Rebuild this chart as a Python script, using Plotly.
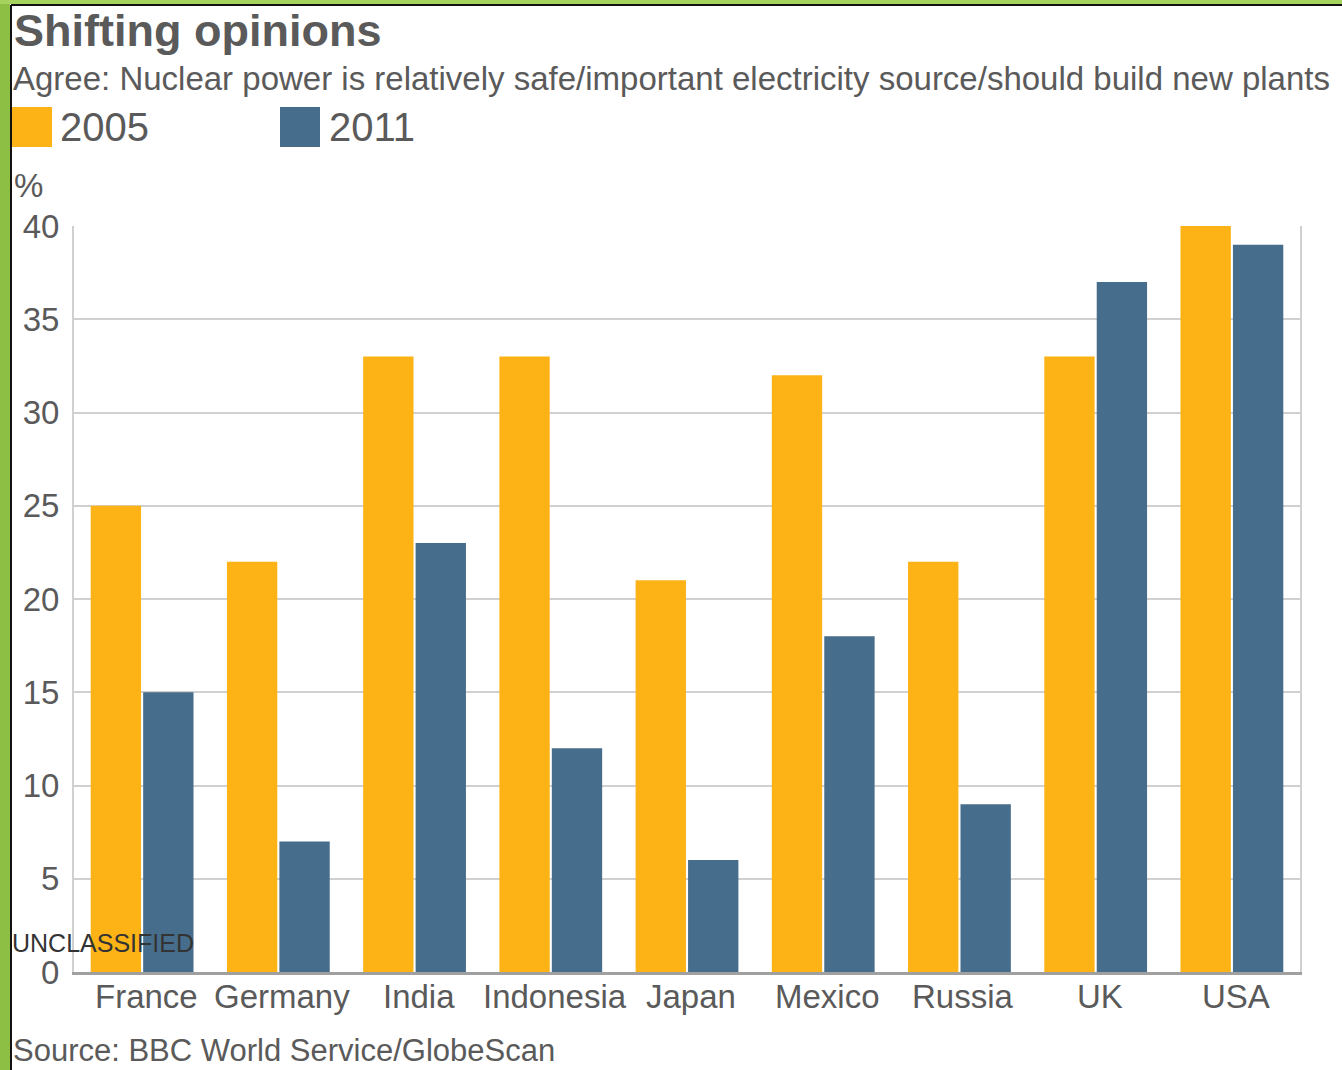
import plotly.graph_objects as go

countries = ["France", "Germany", "India", "Indonesia", "Japan", "Mexico", "Russia", "UK", "USA"]
series_names = ["2005", "2011"]
values_2005 = [25, 22, 33, 33, 21, 32, 22, 33, 40]
values_2011 = [15, 7, 23, 12, 6, 18, 9, 37, 39]
y_ticks = [0, 5, 10, 15, 20, 25, 30, 35, 40]

title = "Shifting opinions"
subtitle = "Agree: Nuclear power is relatively safe/important electricity source/should build new plants"
source = "Source: BBC World Service/GlobeScan"

ORANGE = "#FDB316"
BLUE = "#476D8C"
TXT = "#5a5a5a"
FONT = "Liberation Sans, Arial, sans-serif"

W, H = 1342, 1070
L, R, T, B = 74, 42, 226, 98
PW, PH = W - L - R, H - T - B


def px(x):
    return (x - L) / PW


def py(y):
    return (H - B - y) / PH


fig = go.Figure()
fig.add_trace(go.Bar(x=countries, y=values_2005, name=series_names[0], marker=dict(color=ORANGE, line=dict(width=0))))
fig.add_trace(go.Bar(x=countries, y=values_2011, name=series_names[1], marker=dict(color=BLUE, line=dict(width=0))))

shapes = [
    # green frame
    dict(type="rect", xref="paper", yref="paper", x0=px(0), x1=px(10), y0=py(H), y1=py(0),
         fillcolor="#8dbf45", line=dict(width=0), layer="above"),
    dict(type="rect", xref="paper", yref="paper", x0=px(0), x1=px(W), y0=py(4), y1=py(0),
         fillcolor="#a6d25e", line=dict(width=0), layer="above"),
    dict(type="line", xref="paper", yref="paper", x0=px(11), x1=px(11), y0=py(H), y1=py(5),
         line=dict(color="#111", width=2), layer="above"),
    dict(type="line", xref="paper", yref="paper", x0=px(11), x1=px(W), y0=py(5), y1=py(5),
         line=dict(color="#111", width=2), layer="above"),
    # legend swatches
    dict(type="rect", xref="paper", yref="paper", x0=px(12), x1=px(52), y0=py(147), y1=py(107),
         fillcolor=ORANGE, line=dict(width=0)),
    dict(type="rect", xref="paper", yref="paper", x0=px(280), x1=px(320), y0=py(147), y1=py(107),
         fillcolor=BLUE, line=dict(width=0)),
]

annotations = [
    dict(text="<b>" + title + "</b>", x=px(12), y=py(30), xref="paper", yref="paper",
         xanchor="left", yanchor="middle", showarrow=False, font=dict(size=45, color=TXT, family=FONT)),
    dict(text=subtitle, x=px(11), y=py(78), xref="paper", yref="paper",
         xanchor="left", yanchor="middle", showarrow=False, font=dict(size=33, color=TXT, family=FONT)),
    dict(text=series_names[0], x=px(58), y=py(127), xref="paper", yref="paper",
         xanchor="left", yanchor="middle", showarrow=False, font=dict(size=40, color=TXT, family=FONT)),
    dict(text=series_names[1], x=px(327), y=py(127), xref="paper", yref="paper",
         xanchor="left", yanchor="middle", showarrow=False, font=dict(size=40, color=TXT, family=FONT)),
    dict(text="%", x=px(12), y=py(186), xref="paper", yref="paper",
         xanchor="left", yanchor="middle", showarrow=False, font=dict(size=33, color=TXT, family=FONT)),
    dict(text=source, x=px(11), y=py(1050), xref="paper", yref="paper",
         xanchor="left", yanchor="middle", showarrow=False, font=dict(size=31, color=TXT, family=FONT)),
    dict(text="UNCLASSIFIED", x=px(10), y=py(943), xref="paper", yref="paper",
         xanchor="left", yanchor="middle", showarrow=False, font=dict(size=25, color="#333", family=FONT)),
]

# category labels placed under each group
for c in countries:
    annotations.append(dict(text=c, x=c, xref="x", y=py(997), yref="paper", xanchor="center",
                            yanchor="middle", showarrow=False, xshift=4,
                            font=dict(size=33, color=TXT, family=FONT)))

fig.update_layout(
    width=W, height=H,
    margin=dict(l=L, r=R, t=T, b=B, pad=0),
    paper_bgcolor="white", plot_bgcolor="white",
    barmode="group", bargap=0.23, bargroupgap=0.04,
    showlegend=False,
    font=dict(family=FONT, color=TXT, size=30),
    shapes=shapes, annotations=annotations,
    xaxis=dict(showline=True, linecolor="#a0a0a0", linewidth=3, ticks="", showgrid=False,
               showticklabels=False),
    yaxis=dict(range=[0, 40], tickvals=y_ticks, showgrid=True, gridcolor="#d0d0d0", gridwidth=2,
               showline=True, linecolor="#d0d0d0", linewidth=2, mirror=True, ticks="",
               zeroline=False, tickfont=dict(size=33, color=TXT), ticklabelstandoff=6),
)

fig.write_html("out.html")
